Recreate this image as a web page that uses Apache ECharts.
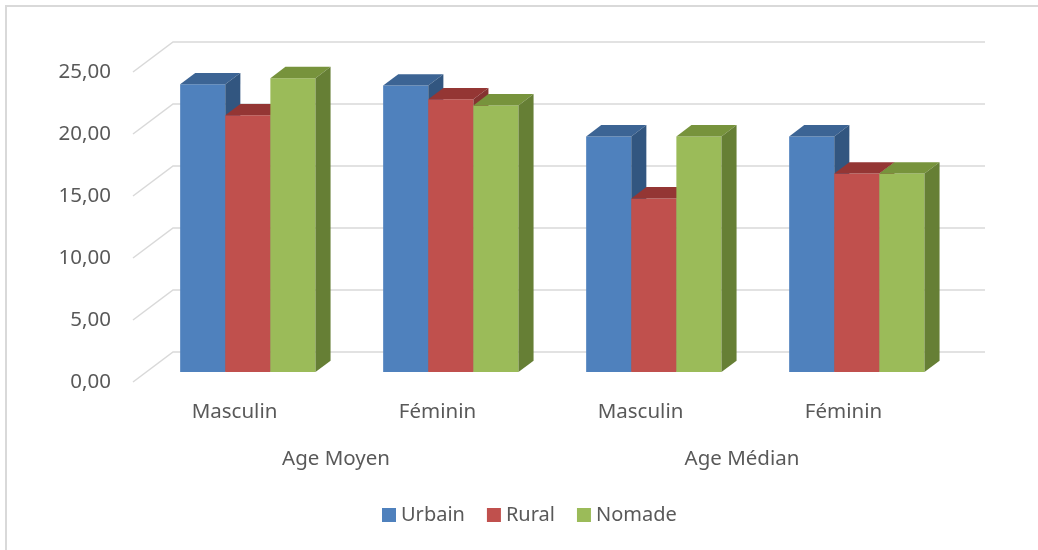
<!DOCTYPE html>
<html>
<head>
    <meta charset="utf-8">
    <title>Age moyen / médian</title>
    <script src="https://cdn.jsdelivr.net/npm/echarts@6/dist/echarts.min.js"></script>
    <style>
        body { margin: 0; background: #fff; }
        #main { width: 1038px; height: 550px; }
    </style>
</head>
<body>
    <div id="main"></div>
<script type="text/javascript">
    // données
    var categories = ['Masculin', 'Féminin', 'Masculin', 'Féminin'];
    var groups = ['Age Moyen', 'Age Médian'];
    var seriesNames = ['Urbain', 'Rural', 'Nomade'];
    var urbain = [23.2, 23.1, 19.0, 19.0];
    var rural = [20.7, 22.0, 14.0, 16.0];
    var nomade = [23.7, 21.5, 19.0, 16.0];
    var yTicks = [0, 5, 10, 15, 20, 25];

    var values = [urbain, rural, nomade];
    var frontColors = ['#4F81BD', '#C0504D', '#9BBB59'];
    var topColors = ['#3C6494', '#943634', '#77933C'];
    var sideColors = ['#325680', '#853331', '#667F35'];

    // profondeur (projection oblique)
    var DX = 40, DY = -30;
    var F1 = 0.333, F2 = 0.71;

    function barRenderer(s) {
        return function (params, api) {
            var cat = api.value(0);
            var base = api.coord([cat, 0]);
            var top = api.coord([cat, api.value(1)]);
            var w = api.size([1, 0])[0] * 0.2222;
            var x0 = base[0] + (s - 1.5) * w + DX * F1;
            var x1 = x0 + w;
            var yb = base[1] + DY * F1;
            var yt = top[1] + DY * F1;
            var ddx = DX * (F2 - F1), ddy = DY * (F2 - F1);
            return {
                type: 'group',
                children: [{
                    type: 'rect',
                    shape: { x: x0, y: yt, width: w, height: yb - yt },
                    style: { fill: frontColors[s] }
                }, {
                    type: 'polygon',
                    shape: { points: [[x0, yt], [x1, yt], [x1 + ddx, yt + ddy], [x0 + ddx, yt + ddy]] },
                    style: { fill: topColors[s] }
                }, {
                    type: 'polygon',
                    shape: { points: [[x1, yt], [x1 + ddx, yt + ddy], [x1 + ddx, yb + ddy], [x1, yb]] },
                    style: { fill: sideColors[s] }
                }]
            };
        };
    }

    var series = [{
        type: 'custom',
        name: 'grille',
        silent: true,
        z: 1,
        renderItem: function (params, api) {
            var p = api.coord([0, api.value(1)]);
            var left = params.coordSys.x;
            var right = params.coordSys.x + params.coordSys.width;
            return {
                type: 'polyline',
                shape: { points: [[left, p[1]], [left + DX, p[1] + DY], [right + DX, p[1] + DY]] },
                style: { stroke: '#D9D9D9', lineWidth: 1.5, fill: null }
            };
        },
        data: yTicks.map(function (v) { return [0, v]; })
    }];

    seriesNames.forEach(function (name, s) {
        series.push({
            type: 'custom',
            name: name,
            z: 2 + s,
            itemStyle: { color: frontColors[s] },
            renderItem: barRenderer(s),
            data: values[s].map(function (v, i) { return [i, v]; })
        });
    });

    var chart = echarts.init(document.getElementById('main'));
    chart.setOption({
        backgroundColor: '#fff',
        animation: false,
        textStyle: { fontFamily: 'Noto Sans' },
        graphic: [{
            type: 'rect',
            shape: { x: 6, y: 6, width: 1100, height: 600 },
            style: { fill: null, stroke: '#D9D9D9', lineWidth: 2 },
            silent: true
        }],
        grid: { left: 133, right: 93, top: 72, bottom: 168 },
        legend: {
            data: seriesNames,
            left: 382,
            top: 505,
            padding: 0,
            icon: 'rect',
            itemWidth: 14,
            itemHeight: 14,
            itemGap: 22,
            textStyle: { color: '#595959', fontSize: 20, fontFamily: 'Noto Sans' }
        },
        xAxis: [{
            type: 'category',
            data: categories,
            position: 'bottom',
            axisLine: { show: false },
            axisTick: { show: false },
            axisLabel: { color: '#595959', fontSize: 20.5, margin: 20, fontFamily: 'Noto Sans' }
        }, {
            type: 'category',
            data: groups,
            position: 'bottom',
            offset: 47,
            axisLine: { show: false },
            axisTick: { show: false },
            axisLabel: { color: '#595959', fontSize: 20.5, margin: 20, fontFamily: 'Noto Sans' }
        }],
        yAxis: {
            type: 'value',
            min: 0,
            max: 25,
            interval: 5,
            axisLine: { show: false },
            axisTick: { show: false },
            splitLine: { show: false },
            axisLabel: {
                color: '#595959',
                fontSize: 20.5,
                margin: 22,
                fontFamily: 'Noto Sans',
                formatter: function (v) { return v.toFixed(2).replace('.', ','); }
            }
        },
        series: series
    });
</script>
</body>
</html>
